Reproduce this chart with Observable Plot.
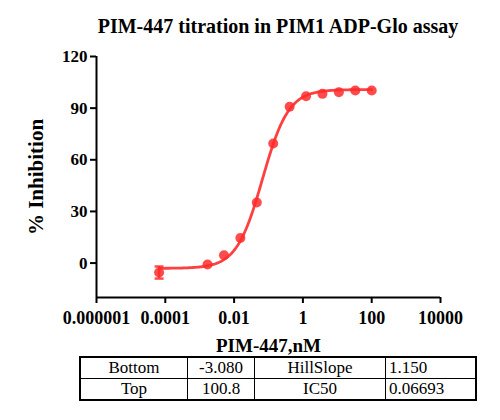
<!DOCTYPE html>
<html><head><meta charset="utf-8">
<script src="https://cdn.jsdelivr.net/npm/d3@7"></script>
<script src="https://cdn.jsdelivr.net/npm/@observablehq/plot@0.6"></script>
<style>
body{margin:0;background:#fff;font-family:"Liberation Serif",serif;}
#wrap{position:relative;width:500px;height:420px;overflow:hidden;}
#title{position:absolute;top:15px;left:28px;width:500px;text-align:center;font-weight:bold;font-size:20px;white-space:nowrap;}
#chart{position:absolute;top:40px;left:0;}
#chart svg, #chart svg text{font-family:"Liberation Serif",serif !important;}
#params{position:absolute;left:79px;top:356px;border-collapse:collapse;font-size:17px;font-family:"Liberation Serif",serif;border:2px solid #000;}
#params td{border:1.5px solid #000;height:20px;padding:0 3px;line-height:20px;font-family:"Liberation Serif",serif;}
</style></head>
<body><div id="wrap"><div id="title">PIM-447 titration in PIM1 ADP-Glo assay</div><div id="chart"></div>
<table id="params"></table></div>
<script>
// data
const concentrations = [0.000066, 0.00169, 0.00508, 0.01524, 0.0457, 0.1372, 0.4115, 1.235, 3.704, 11.11, 33.33, 100];
const inhibition = [-5.5, -0.8, 4.5, 14.6, 35.2, 69.5, 90.8, 96.9, 98.3, 99.2, 100.2, 100.2];
const errLow = [-9.0, null, null, null, null, null, null, null, null, null, null, null];
const errHigh = [-2.0, null, null, null, null, null, null, null, null, null, null, null];
const xTicks = [1e-6, 1e-4, 1e-2, 1, 100, 1e4];
const xTickLabels = ["0.000001", "0.0001", "0.01", "1", "100", "10000"];
const yTicks = [0, 30, 60, 90, 120];
const xDomain = [1e-6, 1e4];
const yDomain = [-20, 120];
const paramNames = ["Bottom", "Top", "HillSlope", "IC50"];
const paramValues = [-3.080, 100.8, 1.150, 0.06693];
const paramText = ["-3.080", "100.8", "1.150", "0.06693"];

const [fitBottom, fitTop, fitHill, fitIC50] = paramValues;
const pts = concentrations.map((c, i) => ({c, v: inhibition[i], lo: errLow[i], hi: errHigh[i]}));
const errPts = pts.filter(d => d.lo != null);
// fitted 4PL curve from the fit parameters
const lx0 = Math.log10(concentrations[0]), lx1 = Math.log10(concentrations[concentrations.length - 1]);
const curve = d3.range(0, 201).map(i => {
  const c = Math.pow(10, lx0 + (lx1 - lx0) * i / 200);
  return {c, v: fitBottom + (fitTop - fitBottom) / (1 + Math.pow(fitIC50 / c, fitHill))};
});
const cap = {draw(ctx, size) { const w = 4.5; ctx.moveTo(-w, 0); ctx.lineTo(w, 0); }};
const red = "#ff2b2b";
const font = "Liberation Serif";

const plot = Plot.plot({
  width: 500, height: 320,
  marginLeft: 96, marginRight: 60, marginTop: 16, marginBottom: 63,
  style: {fontFamily: font, fontSize: "17px", fontWeight: "bold", color: "#000", background: "transparent"},
  x: {type: "log", domain: xDomain},
  y: {domain: yDomain},
  marks: [
    Plot.axisY({ticks: yTicks, tickSize: 6, tickPadding: 3, strokeWidth: 2, fontSize: 17, fontWeight: "bold", label: null}),
    Plot.axisY({ticks: [], label: "% Inhibition", labelAnchor: "center", labelArrow: "none", labelOffset: 68, fontSize: 21, fontWeight: "bold"}),
    Plot.axisX({ticks: xTicks, tickFormat: d => xTickLabels[xTicks.indexOf(d)], tickSize: 6, tickPadding: 8, strokeWidth: 2,
      fontSize: 18, fontWeight: "bold", label: null}),
    Plot.axisX({ticks: [], label: "PIM-447,nM", labelAnchor: "center", labelArrow: "none", labelOffset: 54, fontSize: 19, fontWeight: "bold"}),
    Plot.ruleX([xDomain[0]], {y1: yDomain[0], y2: yDomain[1], strokeWidth: 2}),
    Plot.ruleY([yDomain[0]], {x1: xDomain[0], x2: xDomain[1], strokeWidth: 2}),
    Plot.line(curve, {x: "c", y: "v", stroke: red, strokeWidth: 2.8, strokeOpacity: 0.9}),
    Plot.ruleX(errPts, {x: "c", y1: "lo", y2: "hi", stroke: red, strokeWidth: 2.5, strokeOpacity: 0.85}),
    Plot.dot(errPts, {x: "c", y: "lo", symbol: cap, r: 4, stroke: red, strokeWidth: 2.5, strokeOpacity: 0.85}),
    Plot.dot(errPts, {x: "c", y: "hi", symbol: cap, r: 4, stroke: red, strokeWidth: 2.5, strokeOpacity: 0.85}),
    Plot.dot(pts, {x: "c", y: "v", r: 5, fill: red, fillOpacity: 0.85})
  ]
});
document.getElementById("chart").appendChild(plot);

// parameter table
const table = document.getElementById("params");
const widths = [107, 67, 131, 90];
const rows = [[0, 2], [1, 3]];
rows.forEach(([a, b]) => {
  const tr = document.createElement("tr");
  [[paramNames[a], "center"], [paramText[a], "center"], [paramNames[b], "center"], [paramText[b], "left"]].forEach(([t, al], j) => {
    const td = document.createElement("td");
    td.textContent = t; td.style.textAlign = al; td.style.width = (widths[j] - 7) + "px";
    tr.appendChild(td);
  });
  table.appendChild(tr);
});
</script></body></html>
